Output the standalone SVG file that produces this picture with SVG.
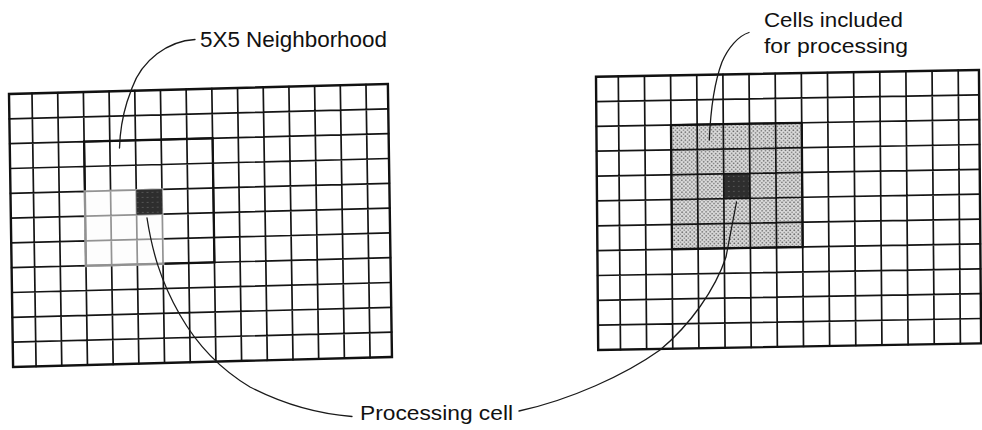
<svg xmlns="http://www.w3.org/2000/svg" width="982" height="430" viewBox="0 0 982 430">
<style>
.grid{fill:none;stroke:#141414;stroke-width:1.7;stroke-linecap:square}
.border{fill:none;stroke:#111;stroke-width:2.4}
.hood{fill:none;stroke:#111;stroke-width:2.3}
.lead{fill:none;stroke:#1a1a1a;stroke-width:1.3;stroke-linecap:round}
.lbl{font-family:"Liberation Sans",Arial,Helvetica,sans-serif;fill:#111}
</style>
<defs>
<pattern id="stip" width="4" height="4" patternUnits="userSpaceOnUse">
<rect width="4" height="4" fill="#dcdcdc"/>
<circle cx="1" cy="1" r="0.85" fill="#666"/>
<circle cx="3" cy="3" r="0.85" fill="#777"/>
</pattern>
<pattern id="dark" width="5" height="5" patternUnits="userSpaceOnUse">
<rect width="5" height="5" fill="#2e2e2e"/>
<circle cx="2" cy="2" r="0.6" fill="#777"/>
</pattern>
</defs>
<rect width="982" height="430" fill="#fff"/>

<g id="left-grid" transform="matrix(0.99965,-0.02638,0.015,0.99989,9,94)">
<path class="grid" d="M23 0V273M48.7 0V273M74.4 0V273M100.1 0V273M125.8 0V273M151.5 0V273M177.2 0V273M202.9 0V273M228.6 0V273M254.3 0V273M280 0V273M305.7 0V273M331.4 0V273M357.1 0V273M0 24.8H379M0 49.6H379M0 74.5H379M0 99.3H379M0 124.1H379M0 148.9H379M0 173.7H379M0 198.5H379M0 223.4H379M0 248.2H379"/>
<rect class="border" x="0" y="0" width="379" height="273"/>
<rect class="hood" x="74.4" y="49.6" width="128.5" height="124.1"/>
<rect x="73" y="98.3" width="80" height="77" fill="#fbfbfb" opacity="0.55"/>
<rect x="125.8" y="99.3" width="25.7" height="24.8" fill="url(#dark)"/>
</g>

<g id="right-grid" transform="matrix(0.99985,-0.01745,0.008,0.99997,596,76.7)">
<rect x="74.6" y="49.7" width="130.75" height="124.2" fill="url(#stip)"/>
<rect x="126.9" y="99.4" width="26.15" height="24.8" fill="url(#dark)"/>
<path class="grid" d="M22.3 0V273.3M48.45 0V273.3M74.6 0V273.3M100.75 0V273.3M126.9 0V273.3M153.05 0V273.3M179.2 0V273.3M205.35 0V273.3M231.5 0V273.3M257.65 0V273.3M283.8 0V273.3M309.95 0V273.3M336.1 0V273.3M362.25 0V273.3M0 24.85H383M0 49.7H383M0 74.5H383M0 99.4H383M0 124.2H383M0 149.1H383M0 173.9H383M0 198.8H383M0 223.6H383M0 248.5H383"/>
<rect class="border" x="0" y="0" width="383" height="273.3"/>
<rect class="hood" x="74.6" y="49.7" width="130.75" height="124.2"/>
</g>

<g id="connectors">
<path class="lead" d="M195 39.5C168 41 142 60 132 88L127 102C123 115 120 130 119.5 148"/>
<path class="lead" d="M749 32.5C738 36 728 48 722 62C716 78 711 100 709.3 140"/>
<path class="lead" d="M147 218C152 250 160 280 180 315C200 350 225 372 250 387C285 405 320 414 352 416.5"/>
<path class="lead" d="M519 411C570 400 625 375 660 350C690 325 715 290 726 257L736.5 202"/>
</g>

<g id="label-neighborhood">
<text class="lbl" x="200" y="46.7" font-size="22" textLength="187" lengthAdjust="spacingAndGlyphs">5X5 Neighborhood</text>
</g>
<g id="label-cells">
<text class="lbl" x="764" y="27.3" font-size="20.5" textLength="139" lengthAdjust="spacingAndGlyphs">Cells included</text>
<text class="lbl" x="764" y="53.3" font-size="20.5" textLength="144" lengthAdjust="spacingAndGlyphs">for processing</text>
</g>
<g id="label-processing">
<text class="lbl" x="360" y="420" font-size="20" textLength="153" lengthAdjust="spacingAndGlyphs">Processing cell</text>
</g>
</svg>
